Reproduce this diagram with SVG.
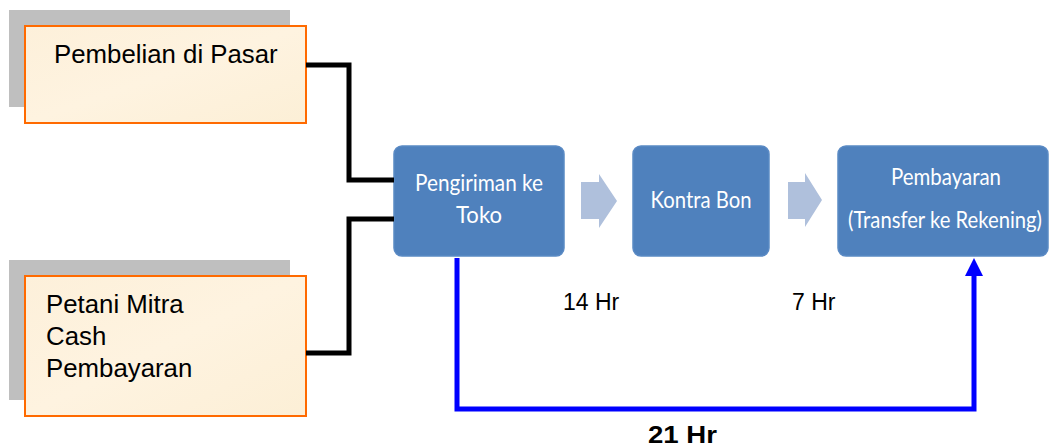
<svg xmlns="http://www.w3.org/2000/svg" width="1050" height="446" viewBox="0 0 1050 446">
  <style>
    .shadow { fill: #bfbfbf; }
    .src { fill: url(#parchment); stroke: #ff6a00; stroke-width: 2; }
    .src-text { font-family: "Liberation Sans", Arial, sans-serif; font-size: 25.8px; fill: #000; }
    .step { fill: #4f81bd; stroke: #5a8ac4; stroke-width: 1.5; }
    .step-text { font-family: Lato, "Open Sans", sans-serif; font-size: 24px; fill: #fff; text-anchor: middle; }
    .chev { fill: #afc0dc; }
    .feed { fill: none; stroke: #000; stroke-width: 5; stroke-linejoin: miter; }
    .total { fill: none; stroke: #0000ff; stroke-width: 5; stroke-linejoin: miter; }
    .dur { font-family: "Liberation Sans", Arial, sans-serif; font-size: 23px; fill: #000; }
  </style>
  <defs>
    <linearGradient id="parchment" x1="0" y1="0" x2="1" y2="1">
      <stop offset="0" stop-color="#fdf0da"/>
      <stop offset="0.5" stop-color="#fef3e0"/>
      <stop offset="1" stop-color="#fcefd6"/>
    </linearGradient>
  </defs>

  <!-- source: market purchase -->
  <g id="node-pasar">
    <rect class="shadow" x="9" y="10" width="281" height="97"/>
    <rect class="src" x="25" y="26" width="281" height="97"/>
    <text class="src-text" x="54" y="63">Pembelian di Pasar</text>
  </g>

  <!-- source: partner farmers -->
  <g id="node-petani">
    <rect class="shadow" x="9" y="260" width="281" height="140"/>
    <rect class="src" x="25" y="276" width="281" height="140"/>
    <text class="src-text" x="46" y="313">Petani Mitra</text>
    <text class="src-text" x="46" y="345">Cash</text>
    <text class="src-text" x="46" y="377">Pembayaran</text>
  </g>

  <!-- process steps -->
  <g id="node-pengiriman">
    <rect class="step" x="394" y="146" width="170" height="110" rx="8"/>
    <text class="step-text" x="479" y="191" textLength="128" lengthAdjust="spacingAndGlyphs">Pengiriman ke</text>
    <text class="step-text" x="479" y="223" textLength="46" lengthAdjust="spacingAndGlyphs">Toko</text>
  </g>
  <g id="node-kontra">
    <rect class="step" x="633" y="146" width="136" height="110" rx="8"/>
    <text class="step-text" x="701" y="208" textLength="101" lengthAdjust="spacingAndGlyphs">Kontra Bon</text>
  </g>
  <g id="node-pembayaran">
    <rect class="step" x="838" y="146" width="210" height="110" rx="8"/>
    <text class="step-text" x="946" y="185" textLength="110" lengthAdjust="spacingAndGlyphs">Pembayaran</text>
    <text class="step-text" x="945" y="228" textLength="194" lengthAdjust="spacingAndGlyphs">(Transfer ke Rekening)</text>
  </g>

  <!-- connectors -->
  <g id="connectors">
    <path class="feed" d="M306,65 H349 V180 H394"/>
    <path class="feed" d="M394,219 H349 V353 H306"/>
    <path class="chev" d="M581,182 H599 V174 L617,201 L599,228 V219 H581 Z"/>
    <path class="chev" d="M788,182 H805 V173 L822,200 L805,227 V219 H788 Z"/>
    <path class="total" d="M457,258 V409 H974 V274"/>
    <path d="M974,258 L983,276 L965,276 Z" fill="#0000ff"/>
  </g>

  <!-- durations -->
  <text class="dur" x="563" y="310">14 Hr</text>
  <text class="dur" x="792" y="310">7 Hr</text>
  <text class="dur" x="648" y="443" font-weight="bold" textLength="69" lengthAdjust="spacingAndGlyphs">21 Hr</text>
</svg>
